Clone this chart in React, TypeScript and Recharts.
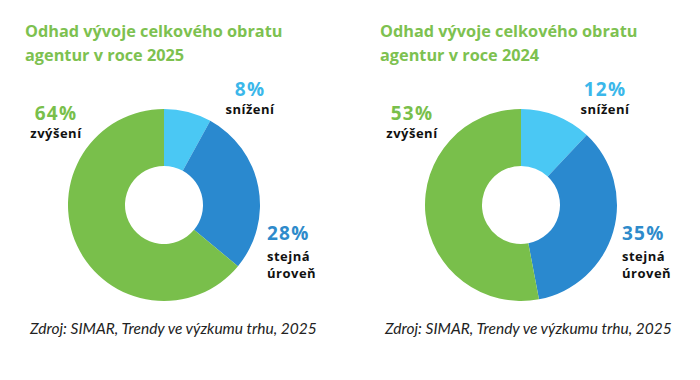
import React from "react";
import { PieChart, Pie, Cell } from "recharts";

const categories = ["snížení", "stejná úroveň", "zvýšení"];
const values2025 = [8, 28, 64];
const values2024 = [12, 35, 53];
const titleLines = [
  ["Odhad vývoje celkového obratu", "agentur v roce 2025"],
  ["Odhad vývoje celkového obratu", "agentur v roce 2024"],
];
const sourceText = "Zdroj: SIMAR, Trendy ve výzkumu trhu, 2025";

const sliceColors = ["#4AC8F4", "#2A89CF", "#79BF4B"];
const labelColors = ["#3BB7EA", "#2E8BCB", "#79BF4B"];
const GREEN = "#7DC150";

const toData = (vals: number[]) => categories.map((name, i) => ({ name, value: vals[i] }));
const data2025 = toData(values2025);
const data2024 = toData(values2024);

const W = 700;
const H = 380;

type Panel = {
  data: { name: string; value: number }[];
  cx: number;
  cy: number;
  titleX: number;
  title: string[];
  sourceX: number;
  lbl: { x: number; y: number; anchor: "start" | "middle" | "end" }[];
};

const panels: Panel[] = [
  {
    data: data2025,
    cx: 164,
    cy: 205,
    titleX: 25,
    title: titleLines[0],
    sourceX: 30,
    lbl: [
      { x: 250, y: 96, anchor: "middle" },
      { x: 267, y: 240, anchor: "start" },
      { x: 56, y: 120, anchor: "middle" },
    ],
  },
  {
    data: data2024,
    cx: 521,
    cy: 205,
    titleX: 380,
    title: titleLines[1],
    sourceX: 385,
    lbl: [
      { x: 605, y: 96, anchor: "middle" },
      { x: 622, y: 240, anchor: "start" },
      { x: 412, y: 120, anchor: "middle" },
    ],
  },
];

const boldFont = "'Open Sans', 'DejaVu Sans', sans-serif";

export default function App() {
  return (
    <div style={{ position: "absolute", left: 0, top: 0, width: W, height: H, background: "#fff" }}>
      <PieChart width={W} height={H} margin={{ top: 0, right: 0, bottom: 0, left: 0 }}>
        {panels.map((p, pi) => (
          <Pie
            key={pi}
            data={p.data}
            dataKey="value"
            nameKey="name"
            cx={p.cx}
            cy={p.cy}
            innerRadius={39}
            outerRadius={96}
            startAngle={90}
            endAngle={-270}
            stroke="none"
            isAnimationActive={false}
          >
            {p.data.map((d, i) => (
              <Cell key={i} fill={sliceColors[i]} />
            ))}
          </Pie>
        ))}
      </PieChart>
      <svg width={W} height={H} style={{ position: "absolute", left: 0, top: 0, pointerEvents: "none" }}>
        {panels.map((p, pi) => (
          <g key={pi}>
            {p.title.map((line, li) => (
              <text key={li} x={p.titleX} y={37 + li * 24} fill={GREEN} fontFamily={boldFont} fontWeight={700} fontSize={16.3}>
                {line}
              </text>
            ))}
            {p.data.map((d, i) => {
              const l = p.lbl[i];
              const words = i === 1 ? ["stejná", "úroveň"] : [d.name];
              return (
                <g key={i}>
                  <text x={l.x} y={l.y} textAnchor={l.anchor} fill={labelColors[i]} fontFamily={boldFont} fontWeight={700} fontSize={19} letterSpacing={1.2}>
                    {d.value}%
                  </text>
                  {words.map((w, wi) => (
                    <text
                      key={wi}
                      x={l.x}
                      y={l.y + (i === 1 ? 21 + wi * 17 : 18)}
                      textAnchor={l.anchor}
                      fill="#111"
                      fontFamily={boldFont}
                      fontWeight={700}
                      fontSize={13}
                      letterSpacing={0.5}
                    >
                      {w}
                    </text>
                  ))}
                </g>
              );
            })}
            <text x={p.sourceX} y={334} fill="#222" fontFamily="Lato, 'Open Sans', sans-serif" fontStyle="italic" fontSize={15.5}>
              {sourceText}
            </text>
          </g>
        ))}
      </svg>
    </div>
  );
}
